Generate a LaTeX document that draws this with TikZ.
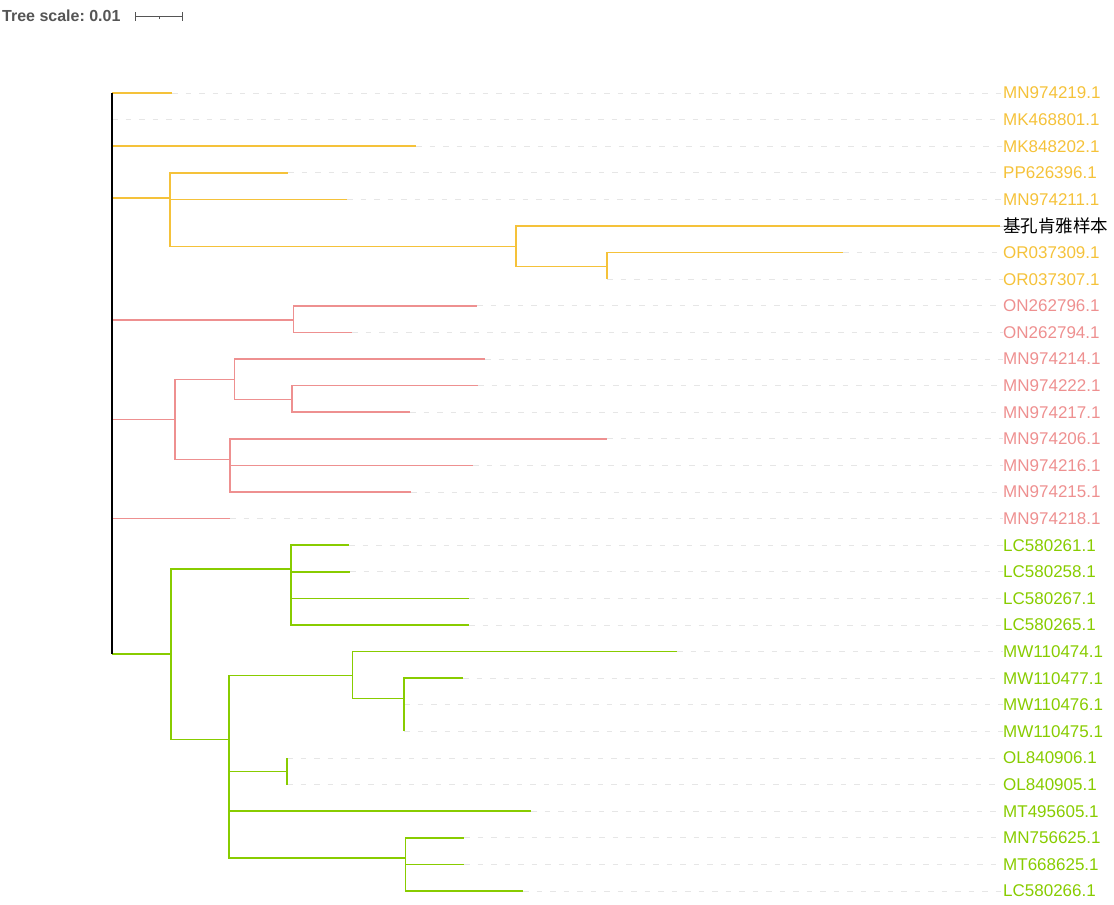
\documentclass[tikz,border=0pt]{standalone}
\usepackage{fontspec}
\setmainfont{Liberation Sans}
\newfontfamily\cjk{Noto Sans CJK SC}
\definecolor{yel}{HTML}{F5C23A}
\definecolor{pnk}{HTML}{EE9090}
\definecolor{grn}{HTML}{88CC00}
\definecolor{dgray}{HTML}{555555}
\definecolor{guidegray}{HTML}{E6E6E6}
\frenchspacing
\begin{document}
\begin{tikzpicture}[x=1pt,y=-1pt,
	branch/.style={line width=1.6pt},
	guide/.style={guidegray,line width=1pt,dash pattern=on 5.5pt off 8pt},
	leaflab/.style={anchor=west,inner sep=0pt,font=\fontsize{17}{20}\selectfont}]
	\useasboundingbox (0,0) rectangle (1114,905);
	\def\top{93}
	\def\gap{26.6}
	\def\labx{1003}
	% scale
	\node[anchor=west,inner sep=0pt,text=dgray,font=\bfseries\fontsize{16}{18}\selectfont] (scale) at (2,16) {Tree scale: 0.01};
	\coordinate (sbl) at (135.5,16);
	\coordinate (sbm) at (159,16);
	\coordinate (sbr) at (182.5,16);
	\draw[dgray,line width=1pt] (sbl) -- (sbr);
	\foreach \e in {sbl,sbr}
		\draw[dgray,line width=1.3pt] ([yshift=-4.5pt]\e) -- ([yshift=4.5pt]\e);
	\draw[dgray,line width=1pt] (sbm) -- ([yshift=-2.5pt]sbm);
	% leaves: name / tip / colour
	\foreach \name/\tip/\col [count=\i] in {
		MN974219.1/172/yel, MK468801.1/112/yel, MK848202.1/416/yel, PP626396.1/288/yel,
		MN974211.1/347/yel, {\cjk\fontsize{17.5}{20}\selectfont 基孔肯雅样本}/1000/black, OR037309.1/843/yel, OR037307.1/607/yel,
		ON262796.1/477/pnk, ON262794.1/352/pnk, MN974214.1/485/pnk, MN974222.1/478/pnk,
		MN974217.1/410/pnk, MN974206.1/607/pnk, MN974216.1/473/pnk, MN974215.1/411/pnk,
		MN974218.1/230/pnk, LC580261.1/349/grn, LC580258.1/350/grn, LC580267.1/469/grn,
		LC580265.1/469/grn, MW110474.1/677/grn, MW110477.1/463/grn, MW110476.1/404/grn,
		MW110475.1/404/grn, OL840906.1/287/grn, OL840905.1/287/grn, MT495605.1/531/grn,
		MN756625.1/464/grn, MT668625.1/464/grn, LC580266.1/523/grn}
		{
		\coordinate (l\i) at (\tip,{\top+(\i-1)*\gap});
		\node[leaflab,text=\col] (t\i) at (\labx,{\top+(\i-1)*\gap}) {\name};
		\draw[guide] (l\i) -- (t\i.west);
		}
	% inner nodes
	\coordinate (r) at (112,93);
	\coordinate (nA) at (170,198);
	\coordinate (nB) at (516,246.5);
	\coordinate (nC) at (607,266.5);
	\coordinate (nD) at (293.5,320);
	\coordinate (nE) at (175,419.5);
	\coordinate (nF) at (234.5,379.5);
	\coordinate (nG) at (292,399.5);
	\coordinate (nH) at (230,459.5);
	\coordinate (nI) at (171,654);
	\coordinate (nJ) at (291,569);
	\coordinate (nK) at (229,739.5);
	\coordinate (nL) at (352.5,675.5);
	\coordinate (nM) at (404,698.5);
	\coordinate (nN) at (287,771.5);
	\coordinate (nO) at (405.5,858);
	% branches
	\foreach \p/\c in {nA/l4,nA/l5,nA/nB,nB/l6,nB/nC,nC/l7,nC/l8}
		\draw[branch,yel] (\p) |- (\c);
	\foreach \p/\c in {nD/l9,nD/l10,nE/nF,nE/nH,nF/l11,nF/nG,nG/l12,nG/l13,nH/l14,nH/l15,nH/l16}
		\draw[branch,pnk] (\p) |- (\c);
	\foreach \p/\c in {nI/nJ,nI/nK,nJ/l18,nJ/l19,nJ/l20,nJ/l21,nK/nL,nK/nN,nK/l28,nK/nO,
		nL/l22,nL/nM,nM/l23,nM/l24,nM/l25,nN/l26,nN/l27,nO/l29,nO/l30,nO/l31}
		\draw[branch,grn] (\p) |- (\c);
	\foreach \c/\col in {l1/yel,l2/yel,l3/yel,nA/yel,nD/pnk,nE/pnk,l17/pnk,nI/grn}
		\draw[branch,\col] (r|-\c) -- (\c);
	\draw[line width=1.8pt] (r) -- (r|-nI);
\end{tikzpicture}
\end{document}
